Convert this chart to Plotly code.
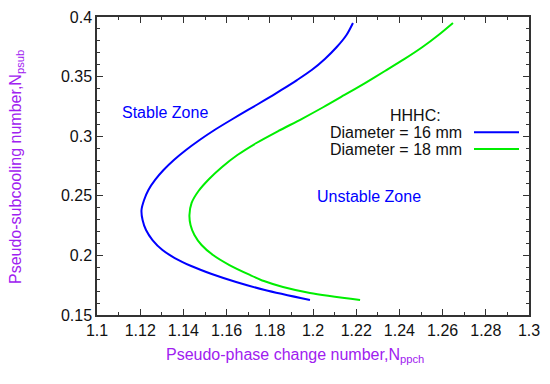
import plotly.graph_objects as go

# Blue curve: Diameter = 16 mm
d16_x = [1.2185, 1.2155, 1.2110, 1.2055, 1.1994, 1.1926, 1.1854, 1.1778, 1.1699, 1.1620,
         1.1544, 1.1475, 1.1412, 1.1356, 1.1308, 1.1269, 1.1238, 1.1218, 1.1206, 1.1211,
         1.1227, 1.1257, 1.1303, 1.1360, 1.1436, 1.1531, 1.1644, 1.1777, 1.1986]
d16_y = [0.3950, 0.3849, 0.3748, 0.3648, 0.3555, 0.3471, 0.3388, 0.3304, 0.3220, 0.3136,
         0.3052, 0.2968, 0.2884, 0.2800, 0.2716, 0.2633, 0.2549, 0.2465, 0.2381, 0.2297,
         0.2213, 0.2129, 0.2045, 0.1978, 0.1911, 0.1844, 0.1777, 0.1710, 0.1626]

# Green curve: Diameter = 18 mm
d18_x = [1.2648, 1.2581, 1.2507, 1.2424, 1.2333, 1.2241, 1.2146, 1.2049, 1.1947, 1.1840,
         1.1738, 1.1650, 1.1579, 1.1519, 1.1470, 1.1438, 1.1428, 1.1433, 1.1451, 1.1484,
         1.1537, 1.1613, 1.1708, 1.1773, 1.1861, 1.1986, 1.2218]
d18_y = [0.3950, 0.3849, 0.3748, 0.3648, 0.3547, 0.3446, 0.3346, 0.3245, 0.3144, 0.3044,
         0.2943, 0.2842, 0.2742, 0.2641, 0.2540, 0.2440, 0.2339, 0.2255, 0.2171, 0.2087,
         0.2003, 0.1919, 0.1836, 0.1785, 0.1735, 0.1685, 0.1626]

x_ticks = [1.1, 1.12, 1.14, 1.16, 1.18, 1.2, 1.22, 1.24, 1.26, 1.28, 1.3]
x_tick_labels = ["1.1", "1.12", "1.14", "1.16", "1.18", "1.2", "1.22", "1.24", "1.26", "1.28", "1.3"]
y_ticks = [0.15, 0.2, 0.25, 0.3, 0.35, 0.4]
y_tick_labels = ["0.15", "0.2", "0.25", "0.3", "0.35", "0.4"]

series_names = ["Diameter = 16 mm", "Diameter = 18 mm"]
series_colors = ["#0000ff", "#00ee00"]

FONT = "Liberation Sans, Arial, sans-serif"
PURPLE = "#a020f0"
AXC = "#333333"

fig = go.Figure()
for xs, ys, name, color in zip([d16_x, d18_x], [d16_y, d18_y], series_names, series_colors):
    fig.add_trace(go.Scatter(x=xs, y=ys, mode="lines", name=name,
                             line=dict(color=color, width=2, shape="spline", smoothing=0.8),
                             showlegend=False))

axis_common = dict(showgrid=False, zeroline=False, showline=True, linecolor=AXC, linewidth=1.5,
                   mirror="ticks", ticks="inside", ticklen=6, tickcolor=AXC, tickwidth=1,
                   automargin=False,
                   tickfont=dict(family=FONT, size=16, color="#111111"))

fig.update_xaxes(range=[1.1, 1.3], tickvals=x_ticks, ticktext=x_tick_labels,
                 minor=dict(ticks="inside", ticklen=3, dtick=0.01, tickcolor=AXC),
                 **axis_common)
fig.update_yaxes(range=[0.15, 0.4], tickvals=y_ticks, ticktext=y_tick_labels,
                 minor=dict(ticks="inside", ticklen=3, dtick=0.01, tickcolor=AXC),
                 **axis_common)


def pap(px, py):
    # window pixel -> paper coords of the plot area (97..529, 17..315)
    return (px - 97) / 432, (315 - py) / 298


# Axis titles
tx, ty = pap(295, 355)
fig.add_annotation(x=tx, y=ty, xref="paper", yref="paper", xanchor="center", yanchor="middle",
                   text="Pseudo-phase change number,N<sub>ppch</sub>", showarrow=False,
                   font=dict(family=FONT, size=16, color=PURPLE))
tx, ty = pap(16, 167)
fig.add_annotation(x=tx, y=ty, xref="paper", yref="paper", xanchor="center", yanchor="middle",
                   text="Pseudo-subcooling number,N<sub>psub</sub>", showarrow=False, textangle=-90,
                   font=dict(family=FONT, size=16, color=PURPLE))

# Zone labels
fig.add_annotation(x=1.1315, y=0.3195, text="Stable Zone", showarrow=False,
                   xanchor="center", yanchor="middle",
                   font=dict(family=FONT, size=16, color="#0000ff"))
fig.add_annotation(x=1.2258, y=0.2493, text="Unstable Zone", showarrow=False,
                   xanchor="center", yanchor="middle",
                   font=dict(family=FONT, size=16, color="#0000ff"))

# Legend (gnuplot style: text then sample line)
tx, ty = pap(415, 115.7)
fig.add_annotation(x=tx, y=ty, xref="paper", yref="paper", xanchor="center", yanchor="middle",
                   text="HHHC:", showarrow=False,
                   font=dict(family=FONT, size=16, color="#111111"))
leg_rows = [132.3, 149.0]
for name, color, ry in zip(series_names, series_colors, leg_rows):
    tx, yy = pap(464, ry)
    fig.add_annotation(x=tx, y=yy, xref="paper", yref="paper",
                       text=name, showarrow=False, xanchor="right", yanchor="middle",
                       font=dict(family=FONT, size=16, color="#111111"))
    x0, _ = pap(474, ry)
    x1, _ = pap(519, ry)
    fig.add_shape(type="line", xref="paper", yref="paper",
                  x0=x0, x1=x1, y0=yy, y1=yy,
                  line=dict(color=color, width=2))

# page body has an 8px margin, so the figure is 8px smaller and shifted
fig.update_layout(width=542, height=376, margin=dict(l=89, r=21, t=9, b=69),
                  plot_bgcolor="white", paper_bgcolor="white",
                  font=dict(family=FONT))

fig.write_html("out.html")
